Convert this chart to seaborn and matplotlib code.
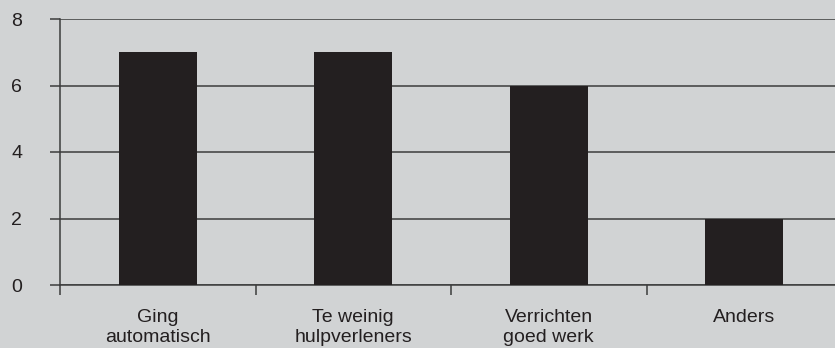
import matplotlib
matplotlib.use("Agg")
import matplotlib.pyplot as plt
import seaborn as sns
import pandas as pd
from matplotlib.ticker import FixedLocator

categories = ["Ging\nautomatisch", "Te weinig\nhulpverleners", "Verrichten\ngoed werk", "Anders"]
counts = [7, 7, 6, 2]
y_ticks = [0, 2, 4, 6, 8]

bg = "#d1d3d4"
bar_color = "#231f20"
line_color = "#3c3c3c"

sns.set_theme(style="white")
plt.rcParams["font.family"] = ["Liberation Sans", "DejaVu Sans"]

df = pd.DataFrame({"categorie": categories, "aantal": counts})

fig = plt.figure(figsize=(8.35, 3.48), dpi=100, facecolor=bg)
ax = fig.add_axes([60 / 835, (348 - 285) / 348, 782 / 835, 266 / 348])
ax.set_facecolor(bg)

sns.barplot(data=df, x="categorie", y="aantal", color=bar_color, width=0.4,
            saturation=1, edgecolor=bar_color, linewidth=0, ax=ax, zorder=3)

ax.set_xlim(-0.5, 3.5)
ax.set_ylim(0, 8)
ax.set_yticks(y_ticks)
ax.set_yticklabels([str(v) for v in y_ticks])
ax.yaxis.grid(True, color=line_color, linewidth=1.1, zorder=1)
ax.set_axisbelow(True)

for side in ("top", "right"):
    ax.spines[side].set_visible(False)
for side in ("left", "bottom"):
    ax.spines[side].set_color(line_color)
    ax.spines[side].set_linewidth(1.1)

# category separators below the axis
ax.xaxis.set_minor_locator(FixedLocator([-0.5, 0.5, 1.5, 2.5, 3.5]))
ax.tick_params(axis="x", which="minor", length=7.2, width=1.1, color=line_color,
               direction="out", bottom=True)
ax.tick_params(axis="x", which="major", length=0, pad=17.5, labelsize=14,
               labelcolor="#231f20")
ax.tick_params(axis="y", which="major", length=7.2, width=1.1, color=line_color,
               direction="out", left=True, pad=28, labelsize=14,
               labelcolor="#231f20")
for lbl in ax.get_yticklabels():
    lbl.set_horizontalalignment("left")

ax.set_xlabel("")
ax.set_ylabel("")

fig.savefig("out.png", dpi=100, facecolor=bg)
